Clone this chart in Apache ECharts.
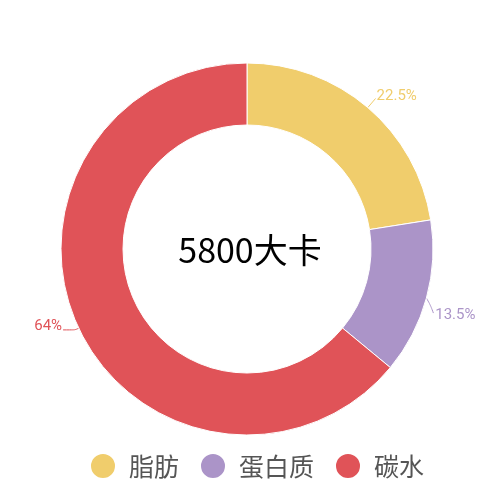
<!DOCTYPE html>
<html><head><meta charset="utf-8">
<script src="https://cdn.jsdelivr.net/npm/echarts@6/dist/echarts.min.js"></script>
<style>html,body{margin:0;padding:0;background:#fff}#c{width:500px;height:500px}</style>
</head><body><div id="c"></div>
<script>
const categories = ['脂肪', '蛋白质', '碳水'];
const values = [22.5, 13.5, 64];
const colors = ['#f0cd6c', '#ab94c8', '#e05358'];
const centerText = '5800大卡';

// label guide styling per slice (lengths only)
const guideLen = [12, 6, 4];
const guideLen2 = [0, 2, 12];

const chart = echarts.init(document.getElementById('c'));
chart.setOption({
  color: colors,
  title: {
    text: centerText, left: 'center', top: 'middle',
    textStyle: { fontSize: 34, fontWeight: 'normal', color: '#000', fontFamily: 'Noto Sans CJK SC' }
  },
  legend: {
    bottom: 15, left: 84, icon: 'circle', itemWidth: 26, itemHeight: 26, itemGap: 20,
    textStyle: { fontSize: 25, color: '#555', fontFamily: 'Noto Sans CJK SC', padding: [0, 0, 0, 8] },
    data: categories
  },
  series: [{
    type: 'pie',
    center: ['49.4%', '49.8%'],
    radius: ['49.6%', '74.4%'],
    startAngle: 90,
    avoidLabelOverlap: false,
    itemStyle: { borderColor: '#fff', borderWidth: 1 },
    label: { formatter: '{c}%', fontSize: 15, color: 'inherit', fontFamily: 'Roboto', distanceToLabelLine: 1 },
    labelLine: { smooth: 0.3 },
    labelLayout: function (p) {
      if (p.dataIndex === 1 && p.labelLinePoints) {
        const a = p.labelLinePoints[0];
        return {
          dy: 16,
          labelLinePoints: [[a[0], a[1]], [a[0] + 4, a[1] + 7], [a[0] + 7, a[1] + 15]]
        };
      }
      if (p.dataIndex === 0) return { dy: -2 };
      if (p.dataIndex === 2) return { dy: -4 };
      return {};
    },
    data: categories.map((n, i) => ({
      name: n, value: values[i],
      labelLine: { length: guideLen[i], length2: guideLen2[i] }
    }))
  }]
});
</script></body></html>
